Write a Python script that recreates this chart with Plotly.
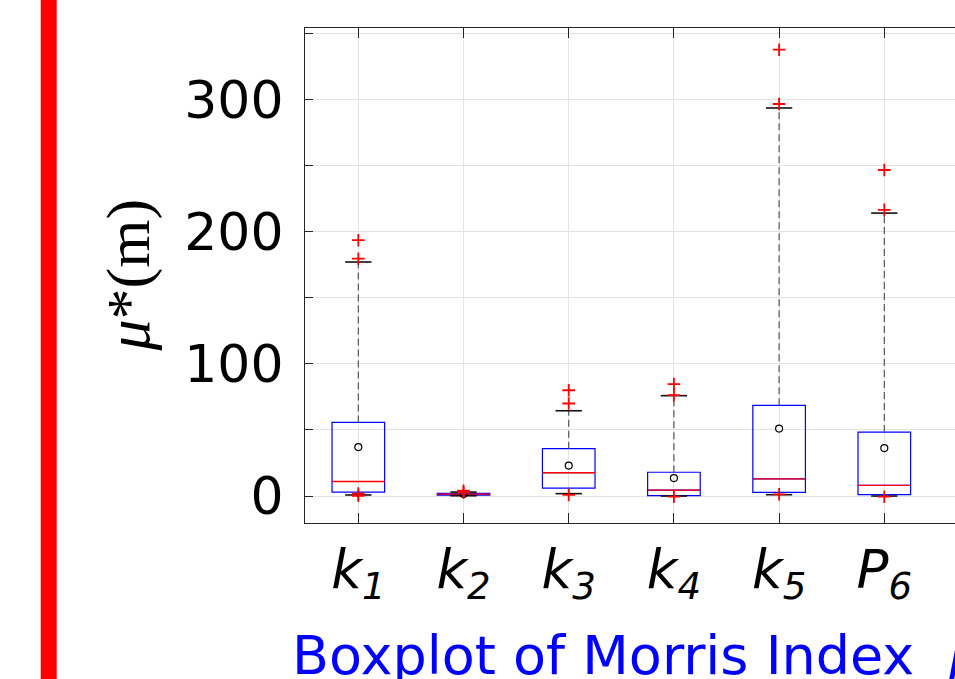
import plotly.graph_objects as go

# ---- data ----
categories = ["k1", "k2", "k3", "k4", "k5", "P6"]
tick_labels = ["<i>k<sub>1</sub></i>", "<i>k<sub>2</sub></i>", "<i>k<sub>3</sub></i>",
               "<i>k<sub>4</sub></i>", "<i>k<sub>5</sub></i>", "<i>P<sub>6</sub></i>"]
q1 = [3.0, 0.6, 6.0, 0.3, 2.8, 1.0]
median = [11.0, 1.4, 17.6, 4.5, 13.0, 8.0]
q3 = [55.7, 2.0, 35.8, 18.0, 68.6, 48.4]
lower_whisker = [0.8, 0.2, 1.8, 0.0, 1.0, 0.0]
upper_whisker = [177.0, 3.0, 64.5, 75.9, 293.5, 214.0]
mean = [37.0, 1.5, 23.0, 13.6, 51.0, 36.3]
outliers = [
    [193.5, 179.5, 1.8, 0.2],
    [4.0, 2.8],
    [80.0, 70.0, 0.8],
    [84.7, 76.3, -0.5],
    [337.6, 296.5, 1.3],
    [246.6, 216.5, -0.5],
]
y_tick_values = [0, 50, 100, 150, 200, 250, 300, 350]
y_tick_text = ["0", "", "100", "", "200", "", "300", ""]

pos = list(range(1, len(categories) + 1))
BOX_HALF = 0.25
CAP_HALF = 0.125


def seg_lists(pairs):
    xs, ys = [], []
    for (xa, xb, ya, yb) in pairs:
        xs += [xa, xb, None]
        ys += [ya, yb, None]
    return xs, ys


fig = go.Figure()

# whiskers (dashed)
wx, wy = seg_lists([(p, p, q3[i], upper_whisker[i]) for i, p in enumerate(pos)] +
                   [(p, p, q1[i], lower_whisker[i]) for i, p in enumerate(pos)])
fig.add_trace(go.Scatter(x=wx, y=wy, mode="lines",
                         line=dict(color="#555555", width=1.2, dash="7px,4px"),
                         hoverinfo="skip", showlegend=False))

# boxes
fig.add_trace(go.Box(x=pos, q1=q1, median=median, q3=q3,
                     lowerfence=q1, upperfence=q3, width=2 * BOX_HALF,
                     line=dict(color="#0000ff", width=1.2),
                     fillcolor="rgba(0,0,0,0)", boxpoints=False,
                     showlegend=False))

# medians (red)
mx, my = seg_lists([(p - BOX_HALF, p + BOX_HALF, median[i], median[i]) for i, p in enumerate(pos)])
fig.add_trace(go.Scatter(x=mx, y=my, mode="lines",
                         line=dict(color="#ff0000", width=1.3),
                         hoverinfo="skip", showlegend=False))

# caps
cx, cy = seg_lists([(p - CAP_HALF, p + CAP_HALF, upper_whisker[i], upper_whisker[i]) for i, p in enumerate(pos)] +
                   [(p - CAP_HALF, p + CAP_HALF, lower_whisker[i], lower_whisker[i]) for i, p in enumerate(pos)])
fig.add_trace(go.Scatter(x=cx, y=cy, mode="lines",
                         line=dict(color="#111111", width=1.6),
                         hoverinfo="skip", showlegend=False))

# means
fig.add_trace(go.Scatter(x=pos, y=mean, mode="markers",
                         marker=dict(symbol="circle-open", size=7, color="black",
                                     line=dict(width=1.2, color="black")),
                         showlegend=False))

# outliers
ox, oy = [], []
for i, p in enumerate(pos):
    for v in outliers[i]:
        ox.append(p)
        oy.append(v)
fig.add_trace(go.Scatter(x=ox, y=oy, mode="markers",
                         marker=dict(symbol="cross-thin-open", size=9, color="#ff0000",
                                     line=dict(width=1.8, color="#ff0000")),
                         showlegend=False))

L, R, T, B = 305, 0, 28, 156
W, H = 955, 679
pw = W - L - R
ph = H - T - B


def px_to_paper_x(px):
    return (px - L) / pw


def px_to_paper_y(py):
    return (H - B - py) / ph


fig.update_layout(
    width=W, height=H,
    margin=dict(l=L, r=R, t=T, b=B, pad=0),
    paper_bgcolor="white", plot_bgcolor="white",
    font=dict(family="DejaVu Sans", color="black"),
    xaxis=dict(range=[0.493, 6.672], tickvals=pos, ticktext=tick_labels,
               ticks="inside", ticklen=10, tickwidth=1.2, tickcolor="#262626",
               showline=True, linecolor="#262626", linewidth=1.2, mirror="ticks",
               showgrid=True, gridcolor="#e3e3e3", gridwidth=1, zeroline=False,
               tickfont=dict(family="DejaVu Sans", size=53, color="black"),
               ticklabelstandoff=0),
    yaxis=dict(range=[-20.4, 354], tickvals=y_tick_values, ticktext=y_tick_text,
               ticks="inside", ticklen=8, tickwidth=1.2, tickcolor="#262626",
               showline=True, linecolor="#262626", linewidth=1.2,
               showgrid=True, gridcolor="#e3e3e3", gridwidth=1, zeroline=False,
               tickfont=dict(family="DejaVu Sans", size=52, color="black"),
               ticklabelstandoff=10),
    shapes=[dict(type="rect", xref="paper", yref="paper",
                 x0=px_to_paper_x(40.7), x1=px_to_paper_x(56.7),
                 y0=-0.5, y1=1.2, fillcolor="#ff0000", line=dict(width=0),
                 layer="above")],
    annotations=[
        dict(text="<i>μ</i>*(m)", xref="paper", yref="paper",
             x=px_to_paper_x(128), y=0.5, textangle=-90, showarrow=False,
             xanchor="center", yanchor="middle",
             font=dict(family="Liberation Serif", size=62, color="black")),
        dict(text="Boxplot of Morris Index  <i>μ</i>*", xref="paper", yref="paper",
             x=px_to_paper_x(290), y=px_to_paper_y(655), showarrow=False,
             xanchor="left", yanchor="middle",
             font=dict(family="DejaVu Sans", size=54, color="#0000ff")),
    ],
)

fig.write_html("out.html")
